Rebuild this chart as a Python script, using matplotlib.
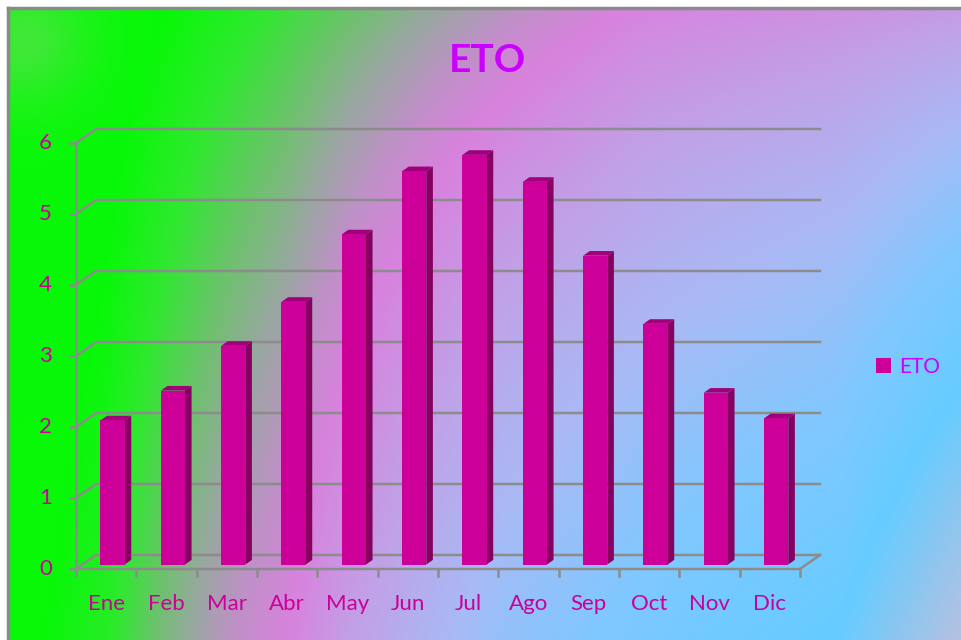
import numpy as np
import matplotlib.pyplot as plt
from matplotlib.patches import Polygon, Rectangle
from matplotlib.colors import to_rgb

plt.rcParams['font.family'] = ['Lato', 'DejaVu Sans']

months = ['Ene', 'Feb', 'Mar', 'Abr', 'May', 'Jun', 'Jul', 'Ago', 'Sep', 'Oct', 'Nov', 'Dic']
eto = [2.03, 2.45, 3.08, 3.70, 4.65, 5.54, 5.77, 5.39, 4.35, 3.39, 2.42, 2.06]
yticks = [0, 1, 2, 3, 4, 5, 6]

W, H = 961, 640
fig = plt.figure(figsize=(W / 100, H / 100), dpi=100)
fig.patch.set_facecolor('white')

# background gradient (pixel axes)
bg = fig.add_axes([0, 0, 1, 1])
bg.set_xlim(0, W)
bg.set_ylim(H, 0)
bg.axis('off')
xx, yy = np.meshgrid(np.arange(W), np.arange(H))
# gradient parameter along top and bottom edges, blended vertically
t_top = np.interp(xx, [0, 450, 640, 961], [150, 330, 400, 450])
t_bot = np.interp(xx, [0, 106, 166, 226, 286, 346, 500, 700, 840, 961],
                  [200, 250, 310, 360, 400, 470, 600, 690, 735, 880])
t = t_top + (t_bot - t_top) * (yy / H) ** 0.85
stops = [0, 220, 260, 300, 330, 365, 400, 480, 560, 640, 730, 880]
cols = ['#08F808', '#08F808', '#30E830', '#70C070', '#98A8A0', '#C090C8',
        '#D882DD', '#C0A2E8', '#A8BAF5', '#80C8FF', '#66CCFF', '#B8C0E0']
rgb = np.array([to_rgb(c) for c in cols])
img = np.dstack([np.interp(t, stops, rgb[:, k]) for k in range(3)])
glow = np.exp(-((xx - 25) ** 2 + (yy - 40) ** 2) / (2 * 45.0 ** 2))[..., None]
img = img * (1 - 0.5 * glow) + np.array(to_rgb('#78D868')) * 0.5 * glow
bg.imshow(img[8:, 8:], extent=(8, W, H, 8), aspect='auto', interpolation='bilinear')
bg.plot([8, W], [8, 8], color='#8A8A8A', lw=2.5)
bg.plot([8, 8], [8, H], color='#8A8A8A', lw=2.5)

# main axes: x = category index, y = value
pxc, pxv = 60.33, 71.0
x0px, y0px = 76, 569
ax = fig.add_axes([0, 0, 1, 1])
ax.set_xlim(-0.5 - x0px / pxc, -0.5 + (W - x0px) / pxc)
ax.set_ylim(-(H - y0px) / pxv, y0px / pxv)
ax.axis('off')
ax.patch.set_alpha(0)

dx, dy = 20 / pxc, 14 / pxv
n = len(months)
grid = '#8C8C8C'
left, right = -0.5, n - 0.5

for v in yticks:
    ax.plot([left, left + dx, right + dx], [v, v + dy, v + dy], color=grid, lw=1.8,
            solid_joinstyle='miter', zorder=1)
    ax.plot([left - 6 / pxc, left], [v, v], color=grid, lw=1.8, zorder=1)
    ax.text(left - 24 / pxc, v, str(v), ha='right', va='center',
            fontsize=16, color='#CC0099')
ax.plot([left, right, right + dx], [0, 0, dy], color=grid, lw=1.8, zorder=1)
ax.plot([left, left], [0, yticks[-1]], color=grid, lw=1.8, zorder=1)
for k in range(n + 1):
    ax.plot([k - 0.5, k - 0.5], [0, -7 / pxv], color=grid, lw=1.8, zorder=1)

# 3D-looking bars
bw = 0.4
f0, f1 = 0.32, 0.65
front_c, side_c, top_c = '#CC0099', '#850060', '#A0007A'
for i, v in enumerate(eto):
    xl = i - bw / 2 + f0 * dx
    xr = xl + bw
    yb = f0 * dy
    ddx, ddy = (f1 - f0) * dx, (f1 - f0) * dy
    ax.add_patch(Polygon([(xr, yb), (xr + ddx, yb + ddy), (xr + ddx, yb + ddy + v), (xr, yb + v)],
                         closed=True, facecolor=side_c, edgecolor='none', zorder=3))
    ax.add_patch(Polygon([(xl, yb + v), (xr, yb + v), (xr + ddx, yb + v + ddy), (xl + ddx, yb + v + ddy)],
                         closed=True, facecolor=top_c, edgecolor='none', zorder=3))
    ax.add_patch(Rectangle((xl, yb), bw, v, facecolor=front_c, edgecolor='none', zorder=4,
                           label='ETO' if i == 0 else None))
    ax.text(i, -35 / pxv, months[i], ha='center', va='center', fontsize=16, color='#CC0099')

ax.text(411 / pxc - 0.5, (y0px - 60) / pxv, 'ETO', ha='center', va='center',
        fontsize=28, fontweight='bold', color='#CC00FF')

leg = ax.legend(loc='center left', bbox_to_anchor=(876 / W, 1 - 367 / H),
                bbox_transform=fig.transFigure, frameon=False, fontsize=15,
                handlelength=0.7, handleheight=0.7, handletextpad=0.4,
                borderpad=0, borderaxespad=0, labelcolor='#CC00FF')

fig.savefig('out.png', dpi=100, facecolor='white')
